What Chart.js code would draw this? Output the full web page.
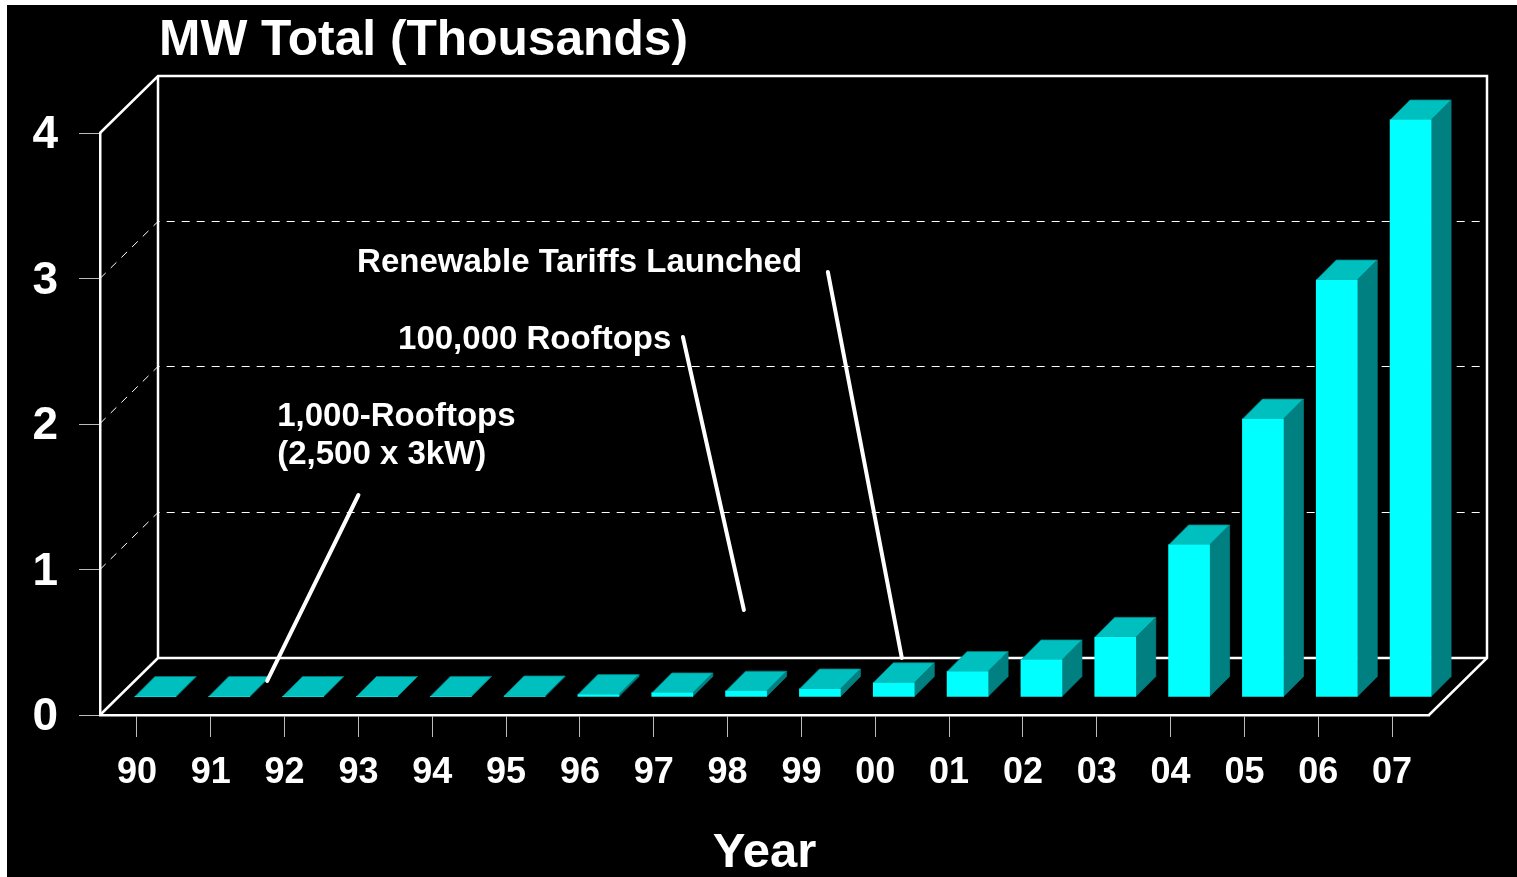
<!DOCTYPE html>
<html><head><meta charset="utf-8">
<script src="https://cdn.jsdelivr.net/npm/chart.js@4/dist/chart.umd.min.js"></script>
<style>
html,body{margin:0;padding:0;background:#fff;width:1517px;height:877px;overflow:hidden}
canvas{position:absolute;left:7px;top:5px;background:#000}
</style></head><body>
<canvas id="c" width="1510" height="872"></canvas>
<script>
const chartTitle = "MW Total (Thousands)";
const axisTitle = "Year";
const years = ["90","91","92","93","94","95","96","97","98","99","00","01","02","03","04","05","06","07"];
const mwThousands = [0.003,0.003,0.003,0.003,0.004,0.007,0.017,0.028,0.04,0.055,0.098,0.175,0.255,0.41,1.045,1.91,2.866,3.966];
const yTicks = [0,1,2,3,4];
const noteTexts = [["Renewable Tariffs Launched"],["100,000 Rooftops"],["1,000-Rooftops","(2,500 x 3kW)"]];

const FONT = '"Liberation Sans", Arial, sans-serif';
const WALL = {dx:58, dy:-57};
const BAR = {dx:18.5, dy:-18, depth:20};
const FRONT='#00FFFF', TOP='#00BFBF', SIDE='#008080';
// annotation anchors in data units: [category position, value]
const noteAnchors = [[[2.982,3.106]],[[3.537,2.577]],[[1.90,2.048],[1.90,1.786]]];
const leaders = [
  [[9.358,3.045],[10.36,0.392]],
  [[7.395,2.598],[8.221,0.722]],
  [[3.0,1.512],[1.764,0.234]]
];

const scene = {
  id:'scene',
  afterLayout(chart){
    const t = chart.titleBlock;
    t.left = 152; t.right = 1400; t.top = 11; t.bottom = t.top + t.height;
  },
  beforeDatasetsDraw(chart){
    const {ctx,chartArea:a,scales:{x,y}} = chart;
    ctx.save();
    const L=a.left,R=a.right,B=y.getPixelForValue(0),T=y.getPixelForValue(4);
    const d=WALL;
    // dashed wall gridlines
    ctx.strokeStyle='#fff';ctx.lineWidth=1;ctx.setLineDash([8,7]);
    yTicks.slice(1,-1).forEach(v=>{
      const py=Math.round(y.getPixelForValue(v))-.5;
      ctx.beginPath();ctx.moveTo(L,py);ctx.lineTo(L+d.dx,py+d.dy);ctx.lineTo(R+d.dx,py+d.dy);ctx.stroke();
    });
    ctx.setLineDash([]);
    // wall and floor frame
    ctx.lineWidth=2.5;
    ctx.beginPath();
    ctx.moveTo(L,T);ctx.lineTo(L+d.dx,T+d.dy);ctx.lineTo(R+d.dx,T+d.dy);ctx.lineTo(R+d.dx,B+d.dy);ctx.lineTo(R,B);
    ctx.moveTo(L+d.dx,T+d.dy);ctx.lineTo(L+d.dx,B+d.dy);ctx.lineTo(R+d.dx,B+d.dy);
    ctx.moveTo(L,B);ctx.lineTo(L+d.dx,B+d.dy);
    ctx.stroke();
    ctx.restore();
    // 3D faces, then front faces drawn by Chart.js in the same shifted plane
    ctx.save();
    ctx.translate(BAR.dx,BAR.dy);
    const meta=chart.getDatasetMeta(0);
    meta.data.forEach(b=>{
      const l=b.x-b.width/2,r=b.x+b.width/2,t=b.y,bt=b.base,k=BAR.depth;
      ctx.lineWidth=.75;ctx.lineJoin='round';
      ctx.fillStyle=SIDE;ctx.strokeStyle=SIDE;
      ctx.beginPath();ctx.moveTo(r,t);ctx.lineTo(r+k,t-k);ctx.lineTo(r+k,bt-k);ctx.lineTo(r,bt);ctx.closePath();ctx.fill();ctx.stroke();
      ctx.fillStyle=TOP;
      ctx.beginPath();ctx.moveTo(l,t);ctx.lineTo(l+k,t-k);ctx.lineTo(r+k,t-k);ctx.lineTo(r,t);ctx.closePath();ctx.fill();ctx.stroke();
    });
  },
  afterDatasetsDraw(chart){
    const {ctx,scales:{x,y}} = chart;
    ctx.restore();
    ctx.save();
    ctx.strokeStyle='#fff';ctx.lineWidth=4;ctx.lineCap='round';
    leaders.forEach(([p,q])=>{
      ctx.beginPath();
      ctx.moveTo(x.getPixelForValue(p[0]),y.getPixelForValue(p[1]));
      ctx.lineTo(x.getPixelForValue(q[0]),y.getPixelForValue(q[1]));
      ctx.stroke();
    });
    ctx.fillStyle='#fff';ctx.font='bold 33px '+FONT;ctx.textAlign='left';ctx.textBaseline='middle';
    noteTexts.forEach((lines,i)=>lines.forEach((s,j)=>{
      const p=noteAnchors[i][j];
      ctx.fillText(s,x.getPixelForValue(p[0]),y.getPixelForValue(p[1]));
    }));
    ctx.restore();
  }
};

new Chart(document.getElementById('c'),{
  type:'bar',
  data:{labels:years,datasets:[{data:mwThousands,backgroundColor:FRONT,borderWidth:0,barThickness:41,clip:false}]},
  plugins:[scene],
  options:{
    responsive:false,animation:false,
    layout:{padding:{top:78.3,left:0,right:88,bottom:0}},
    plugins:{
      legend:{display:false},tooltip:{enabled:false},
      title:{display:true,text:chartTitle,align:'start',color:'#fff',padding:0,font:{family:FONT,size:49.7,weight:'bold',lineHeight:1}}
    },
    scales:{
      x:{
        offset:true,
        afterFit(s){s.height=162;},
        grid:{drawOnChartArea:false,drawTicks:true,tickLength:22,tickColor:'#bbb',offset:false},
        border:{color:'#fff',width:2.5},
        ticks:{color:'#fff',padding:14,maxRotation:0,autoSkip:false,font:{family:FONT,size:36,weight:'bold'}},
        title:{display:true,text:axisTitle,color:'#fff',padding:{top:0,bottom:0},font:{family:FONT,size:49,weight:'bold',lineHeight:.95}}
      },
      y:{
        min:0,max:4,
        afterFit(s){s.width=93;},
        afterBuildTicks(s){s.ticks=yTicks.map(v=>({value:v}));},
        grid:{drawOnChartArea:false,drawTicks:true,tickLength:21,tickColor:'#bbb'},
        border:{color:'#fff',width:2.5},
        ticks:{color:'#fff',padding:21,labelOffset:2.5,font:{family:FONT,size:46,weight:'bold'}}
      }
    }
  }
});
</script></body></html>
